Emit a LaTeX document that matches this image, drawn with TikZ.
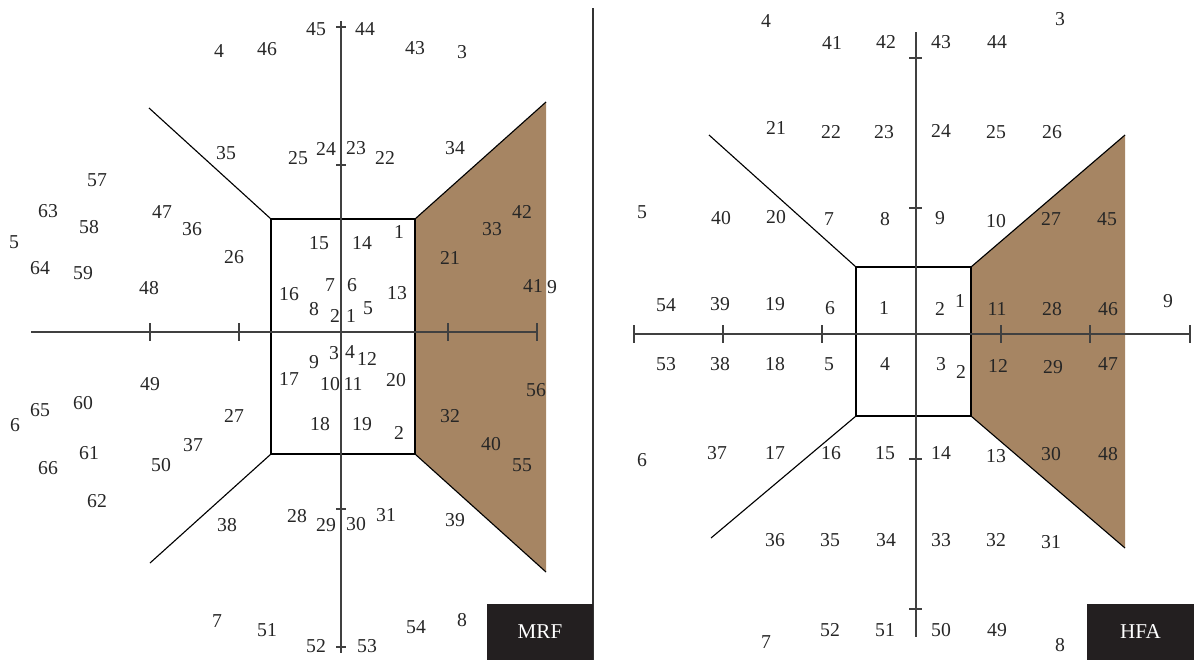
\documentclass[tikz,border=0pt]{standalone}
\usepackage{fontspec}
\setmainfont{Liberation Serif}
\definecolor{fieldbrown}{RGB}{166,133,99}
\definecolor{tagblack}{RGB}{35,31,32}
\begin{document}
\begin{tikzpicture}[x=0.025cm, y=-0.025cm,
  num/.style={font=\fontsize{14}{16}\selectfont, text=black!85, inner sep=0pt},
  axis/.style={line width=0.9pt, black!75},
  rim/.style={line width=0.8pt, black},
  tag/.style={fill=tagblack, text=white, font=\fontsize{15}{17}\selectfont, inner sep=0pt, minimum height=1.4cm}]
\useasboundingbox (0,0) rectangle (1194,660);

% MRF panel
\coordinate (mA) at (271,219);
\coordinate (mB) at (415,219);
\coordinate (mC) at (415,454);
\coordinate (mD) at (271,454);
\fill[fieldbrown] (mB) -- (546,102) -- (546,572) -- (mC) -- cycle;
\draw[rim] (mB) -- (546,102);
\draw[rim] (mC) -- (546,572);
\draw[rim] (mA) rectangle (mC);
\draw[rim] (mA) -- (149,108);
\draw[rim] (mD) -- (150,563);
\draw[axis] (31,332) -- (537,332);
\foreach \x in {150,239,448,537} \draw[axis] (\x,323) -- (\x,341);
\draw[axis] (341,21) -- (341,653);
\foreach \y in {27,165,509,647} \draw[axis] (336,\y) -- (346,\y);

\foreach \t/\x/\y in {4/219/51, 46/267/49, 45/316/29, 44/365/29, 43/415/48, 3/462/52,
  35/226/153, 25/298/158, 24/326/149, 23/356/148, 22/385/158, 34/455/148,
  57/97/180, 63/48/211, 58/89/227, 47/162/212, 36/192/229, 5/14/242,
  64/40/268, 59/83/273, 26/234/257, 48/149/288,
  15/319/243, 14/362/243, 1/399/232, 16/289/294, 7/330/285, 6/352/285,
  13/397/293, 8/314/309, 2/335/316, 1/351/316, 5/368/308,
  3/334/353, 4/350/352, 12/367/359, 9/314/362, 17/289/379, 10/330/384,
  11/353/384, 20/396/380, 18/320/424, 19/362/424, 2/399/433,
  21/450/258, 33/492/229, 42/522/212, 41/533/286, 9/552/287, 56/536/390,
  32/450/416, 40/491/444, 55/522/465,
  49/150/384, 60/83/403, 65/40/410, 6/15/425, 27/234/416, 37/193/445,
  61/89/453, 50/161/465, 66/48/468, 62/97/501, 38/227/525,
  28/297/516, 29/326/525, 30/356/524, 31/386/515, 39/455/520,
  7/217/621, 51/267/630, 52/316/646, 53/367/646, 54/416/627, 8/462/620}
  \node[num] (m-\t-\x) at (\x,\y) {\t};

\draw[line width=0.9pt, black!80] (593,8) -- (593,660);
\node[tag, minimum width=2.65cm] (mrf) at (540,632) {MRF};

% HFA panel
\coordinate (hA) at (856,267);
\coordinate (hB) at (971,267);
\coordinate (hC) at (971,416);
\coordinate (hD) at (856,416);
\fill[fieldbrown] (hB) -- (1125,135) -- (1125,548) -- (hC) -- cycle;
\draw[rim] (hB) -- (1125,135);
\draw[rim] (hC) -- (1125,548);
\draw[rim] (hA) rectangle (hC);
\draw[rim] (hA) -- (709,135);
\draw[rim] (hD) -- (711,538);
\draw[axis] (634,334) -- (1190,334);
\foreach \x in {634,723,822,1001,1090,1190} \draw[axis] (\x,325) -- (\x,343);
\draw[axis] (916,32) -- (916,637);
\foreach \y in {58,208,459,609} \draw[axis] (909,\y) -- (922,\y);

\foreach \t/\x/\y in {4/766/21, 41/832/43, 42/886/42, 43/941/42, 44/997/42, 3/1060/19,
  21/776/128, 22/831/132, 23/884/132, 24/941/131, 25/996/132, 26/1052/132,
  5/642/212, 40/721/218, 20/776/217, 7/829/219, 8/885/219, 9/940/218,
  10/996/221, 27/1051/219, 45/1107/219,
  54/666/305, 39/720/304, 19/775/304, 6/830/308, 1/884/308, 2/940/309,
  1/960/301, 11/997/309, 28/1052/309, 46/1108/309, 9/1168/301,
  53/666/364, 38/720/364, 18/775/364, 5/829/364, 4/885/364, 3/941/364,
  2/961/372, 12/998/366, 29/1053/367, 47/1108/364,
  6/642/460, 37/717/453, 17/775/453, 16/831/453, 15/885/453, 14/941/453,
  13/996/456, 30/1051/454, 48/1108/454,
  36/775/540, 35/830/540, 34/886/540, 33/941/540, 32/996/540, 31/1051/542,
  7/766/642, 52/830/630, 51/885/630, 50/941/630, 49/997/630, 8/1060/645}
  \node[num] (h-\t-\x) at (\x,\y) {\t};

\node[tag, minimum width=2.675cm] (hfa) at (1140.5,632) {HFA};
\end{tikzpicture}
\end{document}
